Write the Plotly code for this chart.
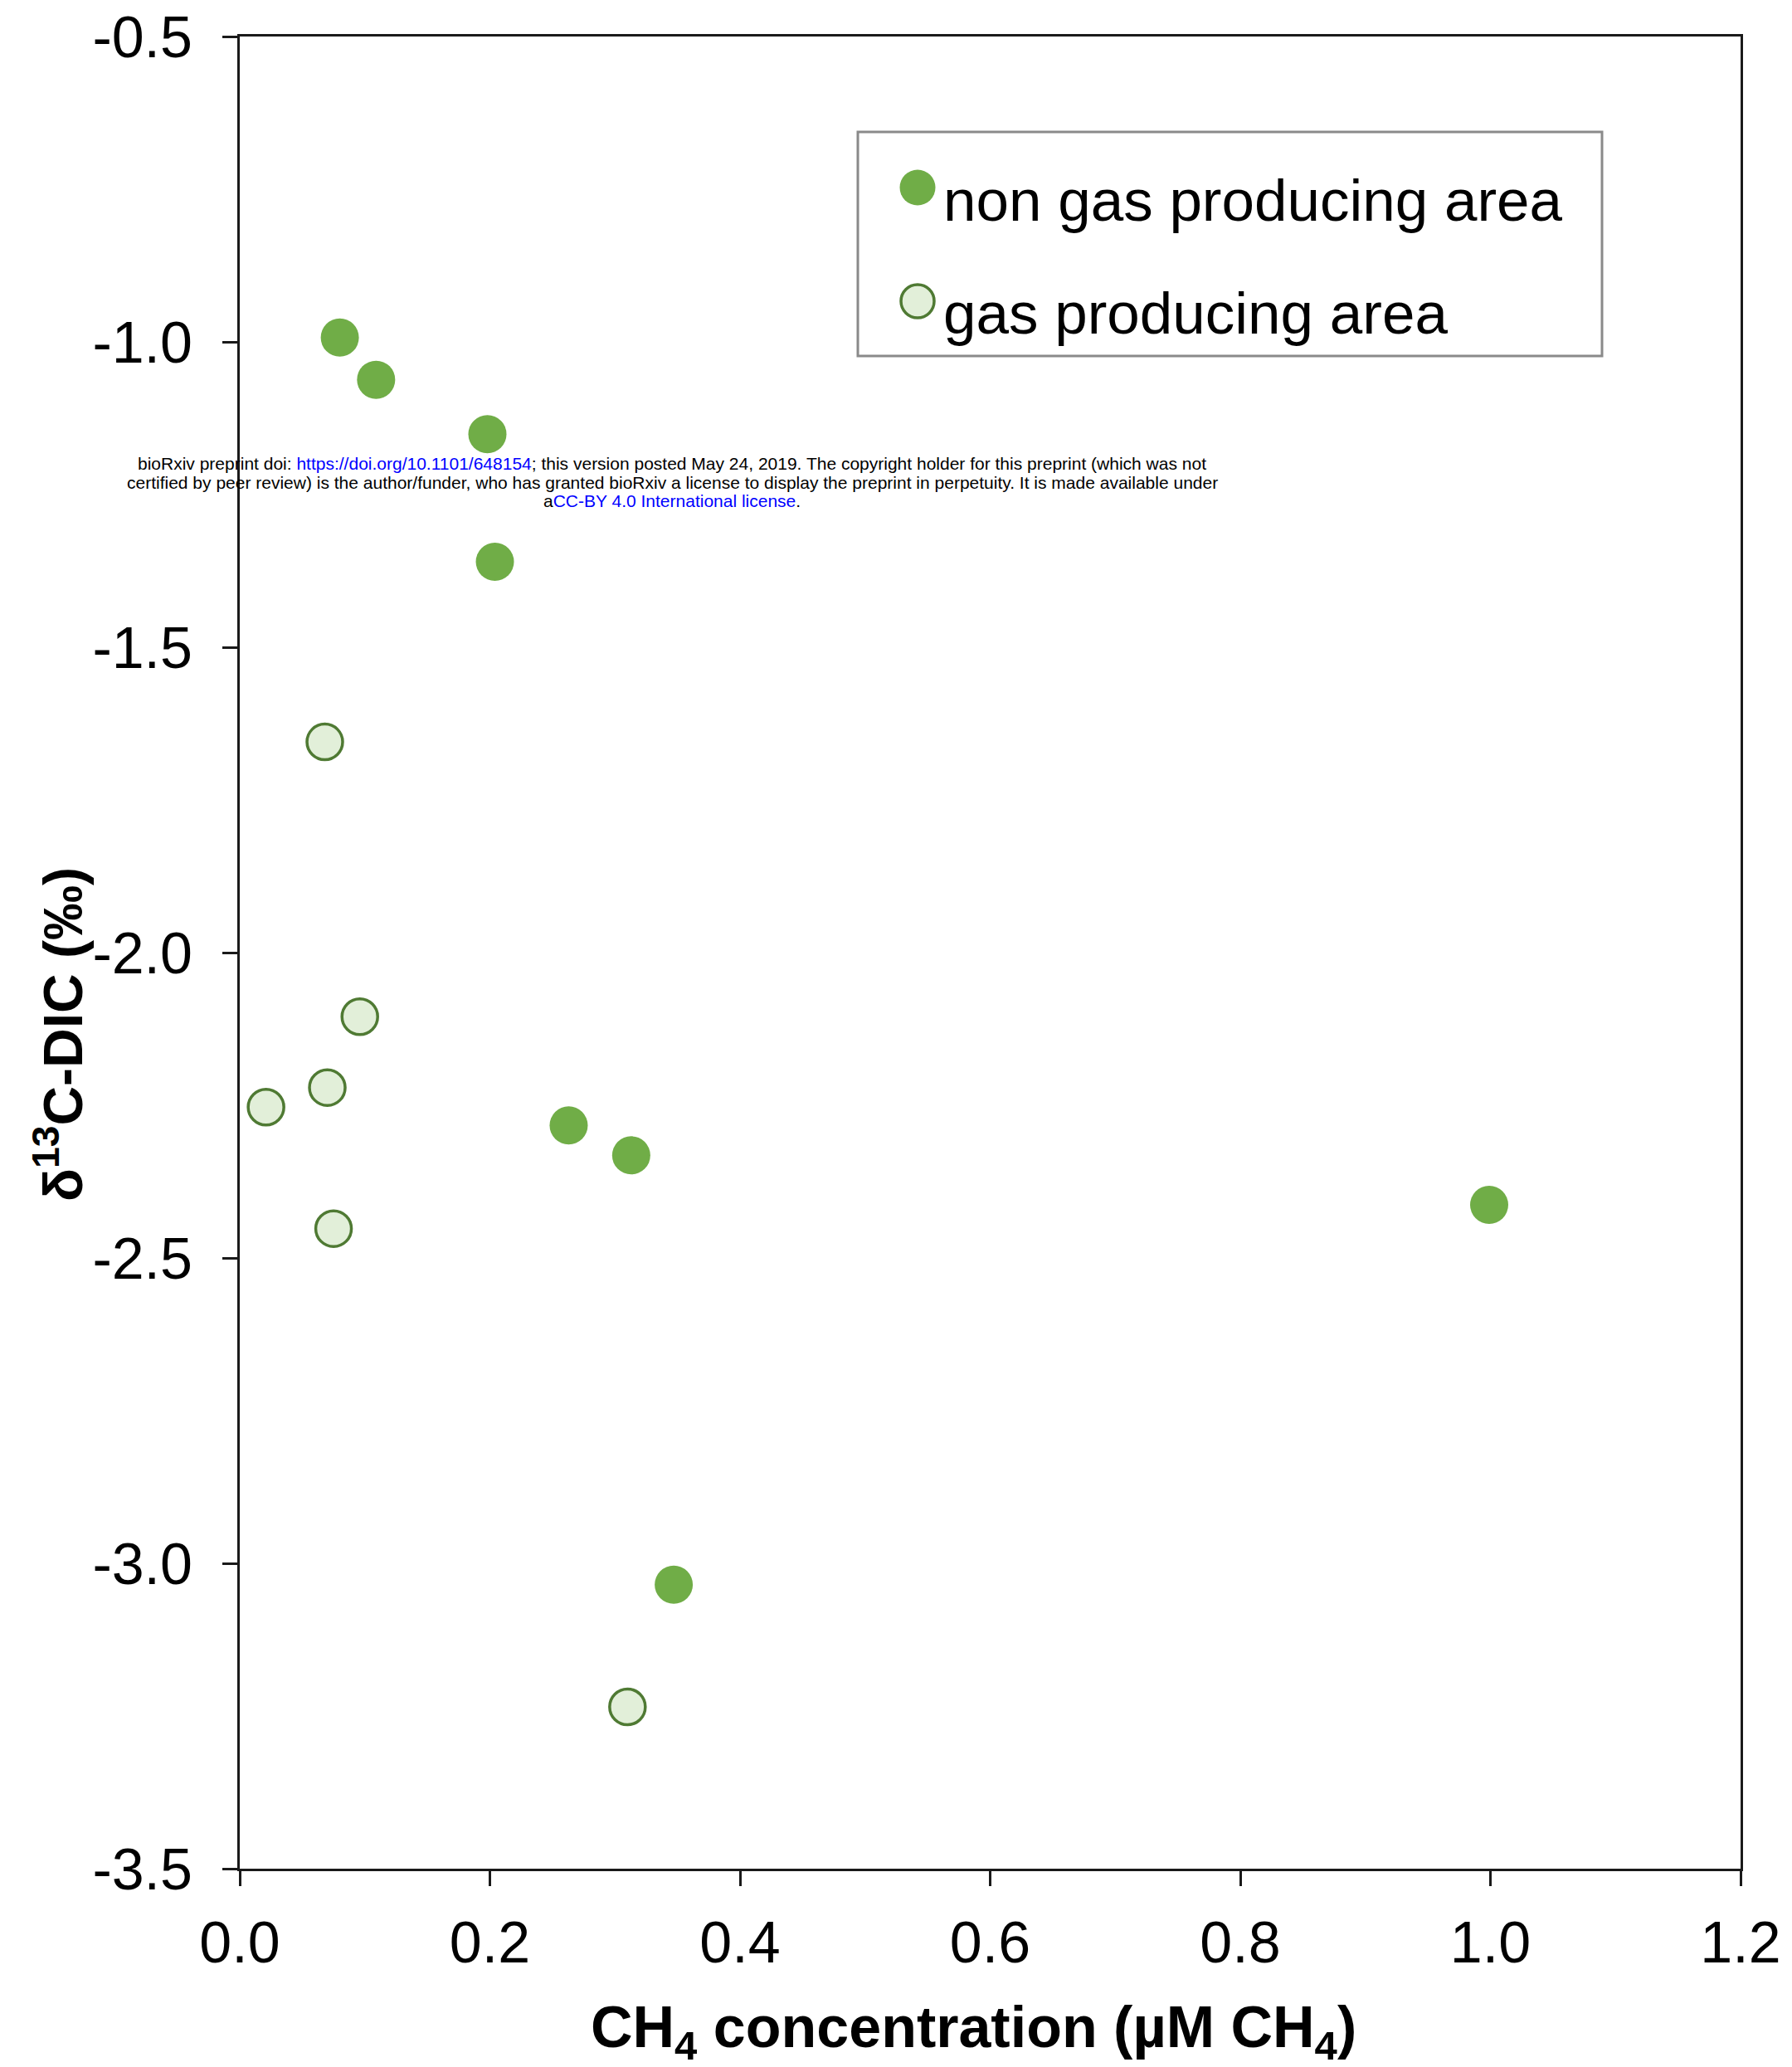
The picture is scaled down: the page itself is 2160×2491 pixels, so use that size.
import plotly.graph_objects as go

# CH4 concentration (µM) and δ13C-DIC (‰) per sampling site
non_gas_ch4 = [0.080, 0.109, 0.198, 0.204, 0.263, 0.313, 0.999, 0.347]
non_gas_d13c = [-0.993, -1.062, -1.151, -1.360, -2.283, -2.332, -2.413, -3.035]

gas_ch4 = [0.068, 0.096, 0.070, 0.021, 0.075, 0.310]
gas_d13c = [-1.655, -2.105, -2.221, -2.253, -2.452, -3.235]

series_names = ["non gas producing area", "gas producing area"]

x_ticks = [0.0, 0.2, 0.4, 0.6, 0.8, 1.0, 1.2]
y_ticks = [-0.5, -1.0, -1.5, -2.0, -2.5, -3.0, -3.5]

x_title = "<b>CH<sub>4</sub> concentration (µM CH<sub>4</sub>)</b>"
y_title = "<b>δ<sup>13</sup>C-DIC (‰)</b>"

W, H = 2160, 2491
ML, MR, MT, MB = 289, 62, 44, 239
PW, PH = W - ML - MR, H - MT - MB

FONT = "Liberation Sans, Arial, Helvetica, sans-serif"
GREEN = "#70AD47"
LIGHT = "#E2EFD9"
EDGE = "#4F7A33"
AXIS = "#1a1a1a"
LINK = "#0000ff"


def px(xp):
    return (xp - ML) / PW


def py(yp):
    return (H - MB - yp) / PH


fig = go.Figure()
fig.add_trace(go.Scatter(
    x=non_gas_ch4, y=non_gas_d13c, mode="markers", name=series_names[0],
    marker=dict(size=46, color=GREEN, line=dict(width=0)),
    showlegend=False,
))
fig.add_trace(go.Scatter(
    x=gas_ch4, y=gas_d13c, mode="markers", name=series_names[1],
    marker=dict(size=43, color=LIGHT, line=dict(width=3.5, color=EDGE)),
    showlegend=False,
))

axis_common = dict(
    showline=True, linecolor=AXIS, linewidth=3, mirror=True,
    ticks="outside", ticklen=18, tickwidth=3, tickcolor=AXIS,
    showgrid=False, zeroline=False,
    tickfont=dict(family=FONT, size=70, color="black"),
)

fig.update_xaxes(
    range=[0, 1.2], tickvals=x_ticks, ticktext=[f"{v:.1f}" for v in x_ticks],
    ticklabelstandoff=8,
    **axis_common,
)
fig.update_yaxes(
    range=[-3.5, -0.5], tickvals=y_ticks, ticktext=[f"{v:.1f}" for v in y_ticks],
    ticklabelstandoff=22,
    **axis_common,
)

# legend box drawn as layout shapes and text
shapes = [
    dict(type="rect", xref="paper", yref="paper",
         x0=px(1034), x1=px(1931), y0=py(429), y1=py(159),
         line=dict(color="#8a8a8a", width=3), fillcolor="rgba(0,0,0,0)"),
    dict(type="circle", xref="paper", yref="paper", xsizemode="pixel", ysizemode="pixel",
         xanchor=px(1106), yanchor=py(226), x0=-21.5, x1=21.5, y0=-21.5, y1=21.5,
         fillcolor=GREEN, line=dict(width=0)),
    dict(type="circle", xref="paper", yref="paper", xsizemode="pixel", ysizemode="pixel",
         xanchor=px(1106), yanchor=py(363), x0=-20, x1=20, y0=-20, y1=20,
         fillcolor=LIGHT, line=dict(width=3.5, color=EDGE)),
]

notice_lines = [
    ('bioRxiv preprint doi: <span style="color:%s">https://doi.org/10.1101/648154</span>; '
     'this version posted May 24, 2019. The copyright holder for this preprint (which was not' % LINK),
    ('certified by peer review) is the author/funder, who has granted bioRxiv a license to display '
     'the preprint in perpetuity. It is made available under'),
    'a<span style="color:%s">CC-BY 4.0 International license</span>.' % LINK,
]
notice_y = [559, 581, 603]

annotations = [
    dict(text=series_names[0], xref="paper", yref="paper", x=px(1135), y=py(241),
         xanchor="left", yanchor="middle", showarrow=False,
         font=dict(family=FONT, size=71, color="black")),
    dict(text=series_names[1], xref="paper", yref="paper", x=px(1135), y=py(378),
         xanchor="left", yanchor="middle", showarrow=False,
         font=dict(family=FONT, size=71, color="black")),
    dict(text=x_title, xref="paper", yref="paper", x=px(1173), y=py(2448),
         xanchor="center", yanchor="middle", showarrow=False,
         font=dict(family=FONT, size=70, color="black")),
    dict(text=y_title, xref="paper", yref="paper", x=px(71), y=py(1247),
         xanchor="center", yanchor="middle", showarrow=False, textangle=-90,
         font=dict(family=FONT, size=66, color="black")),
]
for line, yy in zip(notice_lines, notice_y):
    annotations.append(dict(
        text=line, xref="paper", yref="paper", x=px(810), y=py(yy),
        xanchor="center", yanchor="middle", showarrow=False,
        font=dict(family=FONT, size=21, color="black"),
    ))

fig.update_layout(
    width=W, height=H,
    margin=dict(l=ML, r=MR, t=MT, b=MB, autoexpand=False),
    paper_bgcolor="white", plot_bgcolor="white",
    shapes=shapes, annotations=annotations,
    showlegend=False,
)

fig.write_html("out.html")
